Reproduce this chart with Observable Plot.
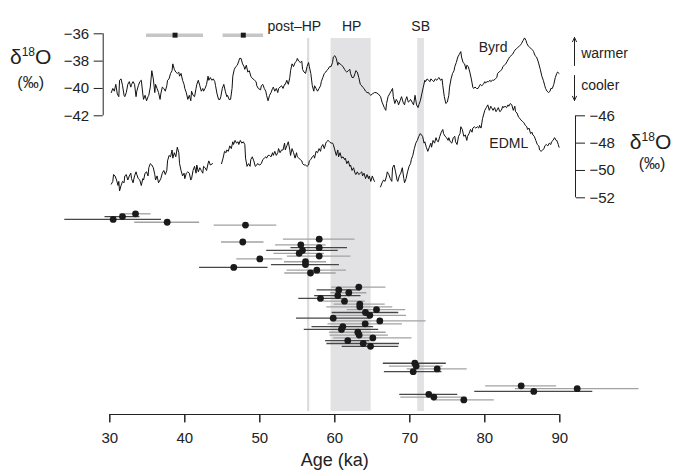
<!DOCTYPE html>
<html><head><meta charset="utf-8">
<script src="https://cdn.jsdelivr.net/npm/d3@7"></script>
<script src="https://cdn.jsdelivr.net/npm/@observablehq/plot@0.6"></script>
<style>body{margin:0;background:#fff}#chart svg{display:block}</style>
</head><body><div id="chart"></div>
<script>
// ---- Data ----
// Byrd ice core δ18O (‰): [age ka, value]
const byrd = [[30.2,-40.3],[30.4,-40.0],[30.6,-40.2],[30.8,-39.7],[31.0,-40.4],[31.2,-40.6],[31.3,-39.4],[31.5,-39.3],[31.7,-39.8],[31.9,-40.5],[32.0,-40.6],[32.2,-40.3],[32.4,-39.7],[32.6,-39.5],[32.8,-39.9],[32.9,-39.7],[33.1,-39.5],[33.3,-39.7],[33.5,-40.6],[33.6,-40.2],[33.8,-39.8],[34.0,-39.5],[34.2,-39.4],[34.4,-40.4],[34.5,-40.8],[34.7,-40.5],[34.9,-40.9],[35.1,-40.6],[35.2,-40.5],[35.4,-39.9],[35.6,-38.7],[35.8,-39.3],[36.0,-40.3],[36.1,-39.7],[36.3,-40.0],[36.5,-40.3],[36.7,-40.8],[36.8,-40.4],[37.0,-39.9],[37.2,-40.0],[37.4,-40.2],[37.6,-39.8],[37.7,-39.4],[37.9,-39.3],[38.1,-38.9],[38.3,-38.7],[38.4,-38.2],[38.6,-38.6],[38.8,-38.8],[39.0,-38.9],[39.2,-38.8],[39.3,-39.1],[39.5,-38.9],[39.7,-39.4],[39.9,-39.7],[40.0,-40.0],[40.2,-40.3],[40.4,-40.8],[40.6,-40.5],[40.8,-40.9],[40.9,-40.2],[41.1,-40.5],[41.3,-40.6],[41.5,-40.0],[41.6,-39.7],[41.8,-39.4],[42.0,-39.8],[42.2,-40.2],[42.4,-40.0],[42.5,-40.2],[42.7,-40.0],[42.9,-39.7],[43.1,-39.1],[43.2,-39.4],[43.4,-39.2],[43.6,-39.4],[43.8,-39.3],[44.0,-39.5],[44.1,-39.8],[44.3,-40.4],[44.5,-40.8],[44.7,-40.8],[44.8,-40.6],[45.0,-40.0],[45.2,-39.7],[45.4,-40.2],[45.6,-40.6],[45.7,-40.5],[45.9,-40.8],[46.1,-40.8],[46.3,-40.0],[46.4,-39.1],[46.6,-38.6],[46.8,-38.4],[47.0,-38.3],[47.2,-38.0],[47.3,-37.8],[47.5,-37.8],[47.7,-38.2],[47.9,-38.4],[48.0,-38.6],[48.2,-38.3],[48.4,-38.8],[48.6,-38.7],[48.8,-39.1],[48.9,-39.2],[49.1,-39.3],[49.3,-39.4],[49.5,-39.5],[49.6,-39.8],[49.8,-40.0],[50.1,-40.1],[50.2,-39.8],[50.4,-39.7],[50.6,-40.0],[50.8,-40.2],[50.9,-40.5],[51.1,-40.9],[51.3,-40.5],[51.5,-40.3],[51.7,-40.0],[51.8,-39.9],[52.0,-40.2],[52.2,-40.0],[52.4,-40.3],[52.5,-40.0],[52.7,-39.9],[52.9,-39.8],[53.1,-40.0],[53.3,-39.7],[53.4,-39.7],[53.6,-39.4],[53.8,-39.7],[54.0,-39.2],[54.1,-38.7],[54.3,-38.2],[54.5,-38.4],[54.7,-38.1],[54.9,-38.0],[55.0,-37.8],[55.2,-38.0],[55.4,-38.1],[55.6,-38.0],[55.7,-38.6],[55.9,-38.8],[56.1,-38.9],[56.3,-38.4],[56.5,-38.1],[56.6,-38.4],[56.8,-38.9],[57.0,-39.8],[57.2,-40.2],[57.3,-39.8],[57.5,-40.0],[57.7,-40.2],[57.9,-40.0],[58.1,-39.8],[58.2,-39.5],[58.4,-39.2],[58.6,-38.9],[58.8,-38.8],[58.9,-38.7],[59.1,-38.6],[59.3,-38.4],[59.5,-38.4],[59.7,-38.1],[59.8,-37.7],[60.0,-37.6],[60.2,-37.8],[60.4,-38.3],[60.5,-38.1],[60.7,-38.2],[60.9,-38.3],[61.1,-38.4],[61.3,-38.6],[61.4,-38.7],[61.6,-38.8],[61.8,-38.7],[62.0,-38.6],[62.1,-38.9],[62.3,-39.2],[62.5,-39.2],[62.7,-38.9],[62.8,-38.7],[63.0,-38.8],[63.2,-39.2],[63.4,-39.7],[63.6,-39.8],[63.7,-39.9],[63.9,-40.0],[64.1,-40.2],[64.3,-40.3],[64.5,-40.3],[64.6,-40.4],[64.8,-40.5],[65.0,-40.4],[65.3,-40.3],[65.5,-40.3],[65.8,-40.4],[66.1,-40.6],[66.3,-41.0],[66.6,-41.4],[66.8,-41.6],[66.9,-41.1],[67.1,-40.6],[67.3,-40.4],[67.5,-40.2],[67.7,-40.0],[67.8,-40.6],[68.0,-41.1],[68.2,-40.8],[68.4,-41.0],[68.5,-41.2],[68.7,-40.9],[68.9,-40.6],[69.1,-41.0],[69.3,-41.2],[69.4,-40.9],[69.6,-40.6],[69.8,-41.0],[70.0,-40.9],[70.1,-40.8],[70.3,-41.0],[70.5,-41.2],[70.7,-40.5],[70.9,-41.2],[71.1,-41.4],[71.2,-41.2],[71.4,-40.9],[71.6,-40.4],[71.8,-39.9],[72.0,-39.4],[72.1,-39.5],[72.3,-39.3],[72.5,-39.4],[72.7,-39.5],[72.8,-39.3],[73.0,-39.4],[73.2,-39.5],[73.4,-39.3],[73.6,-39.4],[73.7,-39.3],[73.9,-39.2],[74.1,-39.4],[74.3,-39.3],[74.4,-39.8],[74.6,-40.6],[74.8,-41.1],[75.0,-41.0],[75.2,-40.5],[75.3,-39.9],[75.5,-39.3],[75.7,-38.9],[75.9,-38.7],[76.0,-38.4],[76.2,-38.1],[76.4,-37.7],[76.6,-37.5],[76.8,-37.3],[76.9,-37.7],[77.1,-38.1],[77.3,-38.2],[77.5,-38.6],[77.6,-38.3],[77.8,-38.4],[78.0,-38.8],[78.2,-39.3],[78.4,-39.9],[78.5,-40.0],[78.7,-39.9],[78.9,-40.0],[79.1,-40.0],[79.2,-39.9],[79.4,-39.7],[79.6,-39.8],[79.8,-39.7],[80.0,-39.5],[80.1,-39.6],[80.3,-39.5],[80.5,-39.5],[80.7,-39.4],[80.8,-39.5],[81.0,-39.4],[81.2,-39.4],[81.4,-39.3],[81.6,-39.2],[81.7,-38.9],[81.9,-38.8],[82.1,-38.7],[82.3,-38.6],[82.4,-38.4],[82.6,-38.3],[82.8,-38.2],[83.0,-38.0],[83.2,-37.8],[83.3,-37.7],[83.5,-37.6],[83.7,-37.5],[83.9,-37.3],[84.0,-37.2],[84.2,-37.1],[84.4,-37.0],[84.6,-36.9],[84.8,-36.8],[84.9,-36.7],[85.1,-36.5],[85.3,-36.3],[85.5,-36.5],[85.6,-36.7],[85.8,-36.9],[86.0,-37.0],[86.2,-37.1],[86.4,-37.2],[86.5,-37.3],[86.7,-37.6],[86.9,-37.7],[87.1,-38.0],[87.2,-38.2],[87.4,-38.6],[87.6,-39.1],[87.8,-39.4],[88.0,-39.8],[88.1,-40.0],[88.3,-40.2],[88.5,-40.3],[88.7,-40.2],[88.8,-40.0],[89.0,-40.0],[89.2,-39.7],[89.4,-39.2],[89.6,-38.9],[89.7,-38.8],[89.9,-38.9]];

// EDML ice core δ18O (‰): [age ka, value]; null = gap in record
const edml = [[30.2,-51.0],[30.4,-50.8],[30.5,-50.3],[30.7,-50.4],[30.9,-50.7],[31.1,-51.1],[31.2,-50.8],[31.3,-51.5],[31.5,-51.1],[31.7,-50.8],[31.9,-50.9],[32.0,-50.4],[32.2,-50.3],[32.4,-50.7],[32.6,-50.4],[32.8,-50.2],[32.9,-50.6],[33.1,-50.9],[33.3,-50.4],[33.5,-50.1],[33.6,-50.3],[33.8,-50.6],[34.0,-50.7],[34.2,-51.1],[34.4,-50.6],[34.5,-50.7],[34.7,-50.2],[34.9,-50.1],[35.1,-50.4],[35.2,-49.8],[35.4,-49.5],[35.6,-49.6],[35.8,-49.8],[36.0,-50.3],[36.1,-50.7],[36.3,-50.4],[36.5,-50.9],[36.7,-50.7],[36.8,-50.6],[37.0,-50.2],[37.2,-50.0],[37.4,-50.3],[37.6,-50.0],[37.7,-49.3],[37.9,-48.9],[38.1,-49.0],[38.3,-48.5],[38.4,-49.1],[38.6,-48.7],[38.8,-49.0],[39.0,-48.3],[39.2,-48.7],[39.3,-49.5],[39.5,-50.0],[39.7,-50.4],[39.9,-50.2],[40.0,-50.6],[40.2,-50.2],[40.4,-50.1],[40.6,-50.2],[40.8,-50.7],[40.9,-50.6],[41.1,-50.0],[41.3,-49.7],[41.5,-50.2],[41.6,-49.6],[41.8,-50.1],[42.0,-49.8],[42.2,-50.0],[42.4,-50.2],[42.5,-49.7],[42.7,-49.8],[42.9,-50.0],[43.1,-49.5],[43.2,-49.3],[43.4,-49.6],[43.7,-49.5],[44.3,null],[44.9,-49.5],[45.1,-49.1],[45.3,-48.6],[45.5,-48.7],[45.6,-48.5],[45.8,-48.6],[46.0,-48.2],[46.2,-48.4],[46.4,-47.9],[46.5,-48.1],[46.7,-47.8],[46.9,-48.0],[47.1,-47.9],[47.2,-48.1],[47.4,-47.8],[47.6,-48.0],[47.8,-47.9],[48.0,-48.1],[48.1,-49.1],[48.3,-49.7],[48.5,-49.5],[48.7,-49.7],[48.8,-49.2],[49.0,-49.0],[49.2,-49.3],[49.4,-49.7],[49.6,-49.6],[49.7,-49.5],[50.0,-49.6],[50.2,-49.5],[50.4,-49.2],[50.6,-49.1],[50.8,-49.0],[50.9,-49.1],[51.1,-48.9],[51.3,-48.9],[51.5,-49.0],[51.7,-48.7],[51.8,-48.9],[52.0,-48.6],[52.2,-48.9],[52.4,-48.7],[52.5,-48.4],[52.7,-48.7],[52.9,-48.5],[53.1,-48.5],[53.3,-48.0],[53.4,-48.5],[53.6,-48.2],[53.8,-47.9],[54.0,-48.5],[54.1,-48.9],[54.3,-48.4],[54.5,-48.7],[54.7,-49.1],[54.9,-48.7],[55.0,-49.0],[55.2,-49.1],[55.4,-49.2],[55.6,-49.3],[55.7,-49.5],[55.9,-49.6],[56.1,-49.6],[56.3,-49.7],[56.5,-49.6],[56.6,-49.3],[56.8,-49.2],[57.0,-49.0],[57.2,-48.9],[57.3,-49.1],[57.5,-48.6],[57.7,-48.7],[57.9,-48.4],[58.1,-48.6],[58.2,-48.3],[58.4,-48.1],[58.6,-48.4],[58.8,-48.0],[58.9,-47.9],[59.1,-47.8],[59.3,-47.9],[59.5,-48.0],[59.7,-48.0],[59.8,-48.1],[60.0,-48.5],[60.2,-48.9],[60.4,-48.5],[60.5,-49.0],[60.7,-48.7],[60.9,-49.1],[61.1,-49.0],[61.3,-49.2],[61.4,-49.1],[61.6,-49.5],[61.8,-49.3],[62.0,-49.7],[62.1,-49.6],[62.3,-50.0],[62.5,-49.8],[62.7,-50.2],[62.8,-50.3],[63.0,-50.1],[63.2,-50.3],[63.4,-50.2],[63.6,-50.1],[63.7,-50.4],[63.9,-50.2],[64.1,-50.6],[64.3,-50.3],[64.5,-50.6],[64.6,-50.4],[64.8,-50.8],[65.0,-50.4],[65.2,-50.7],[65.3,-50.8],[65.7,null],[66.1,-51.2],[66.3,-50.9],[66.5,-50.7],[66.7,-50.8],[66.9,-50.4],[67.0,-50.1],[67.2,-50.3],[67.4,-50.6],[67.6,-50.8],[67.7,-49.8],[67.9,-49.6],[68.1,-50.1],[68.3,-50.7],[68.4,-50.8],[68.6,-50.4],[68.8,-50.2],[69.0,-49.8],[69.2,-50.6],[69.3,-50.9],[69.5,-50.6],[69.7,-50.1],[69.9,-49.7],[70.1,-49.5],[70.2,-49.2],[70.4,-48.9],[70.6,-48.4],[70.8,-48.0],[71.0,-47.8],[71.2,-47.5],[71.4,-47.3],[71.7,-47.5],[71.9,-48.0],[72.0,-47.9],[72.2,-48.3],[72.4,-48.6],[72.6,-48.3],[72.8,-48.0],[72.9,-48.3],[73.1,-47.8],[73.3,-48.0],[73.5,-47.6],[73.6,-47.8],[73.8,-47.9],[74.0,-47.5],[74.2,-47.2],[74.4,-47.0],[74.5,-47.3],[74.7,-47.5],[74.9,-47.6],[75.1,-47.8],[75.2,-47.6],[75.4,-47.9],[75.6,-48.0],[75.8,-47.6],[76.0,-47.5],[76.1,-47.9],[76.3,-48.1],[76.5,-47.5],[76.7,-47.3],[76.8,-46.8],[77.0,-47.0],[77.2,-47.5],[77.4,-47.4],[77.6,-47.8],[77.7,-47.5],[77.9,-47.3],[78.1,-47.0],[78.3,-47.2],[78.4,-46.9],[78.6,-46.8],[78.8,-46.9],[79.0,-46.8],[79.2,-46.9],[79.3,-46.7],[79.5,-46.9],[79.7,-46.2],[79.9,-45.8],[80.0,-45.6],[80.2,-45.4],[80.4,-45.2],[80.6,-45.6],[80.8,-45.3],[80.9,-45.4],[81.1,-45.6],[81.3,-45.4],[81.5,-45.7],[81.6,-45.6],[81.8,-45.4],[82.0,-45.7],[82.2,-45.6],[82.4,-45.3],[82.5,-45.4],[82.7,-45.3],[82.9,-45.4],[83.1,-45.2],[83.2,-45.3],[83.4,-45.1],[83.6,-45.2],[83.8,-45.6],[84.0,-45.3],[84.1,-45.7],[84.3,-45.8],[84.5,-46.1],[84.7,-46.2],[84.8,-46.3],[85.0,-46.4],[85.2,-46.5],[85.4,-46.7],[85.6,-46.8],[85.7,-47.0],[85.9,-46.9],[86.1,-47.3],[86.3,-47.2],[86.4,-47.4],[86.6,-47.5],[86.8,-47.8],[87.0,-48.1],[87.2,-48.2],[87.3,-48.5],[87.5,-48.6],[87.7,-48.5],[87.9,-48.4],[88.0,-48.2],[88.2,-48.1],[88.4,-48.2],[88.6,-48.0],[88.8,-48.1],[88.9,-47.9],[89.1,-47.8],[89.3,-47.6],[89.5,-47.8],[89.6,-47.8],[89.8,-48.1],[89.9,-48.3]];

// Luminescence ages (ka), 1σ errors, plotting row (sample order), bar style group
const lumAge = [33.43,31.69,30.45,37.65,48.09, 57.92,47.73,55.47,57.92,55.69,55.25,57.92,50.0,56.09,56.09,46.53,57.6,56.76, 63.2,60.53,61.87,60.4,58.09,61.29,63.33,63.33,65.56,64.09,64.67,59.79,66.0,64.05,61.07,60.89,63.07,63.25,65.07,61.73,63.79,64.76, 70.67,70.85,73.65,70.45, 84.85,92.32,86.53,72.53,73.2,77.2];
const lumErr = [2.07,2.33,6.45,4.33,4.17, 4.77,2.83,3.37,3.77,4.77,3.37,4.23,3.07,2.8,4.53,4.56,3.96,3.43, 3.62,2.89,2.4,3.09,2.89,2.78,3.4,4.4,3.89,4.44,4.89,4.89,6.17,4.96,4.11,4.96,3.77,3.89,5.22,2.96,4.84,3.77, 4.2,3.57,4.0,3.84, 4.73,8.24,7.87,3.87,4.4,4.07];
const lumRow = [0,1,2,3,4, 9,10,11,12,13,14,15,16,17,18,19,20,21, 26,27,28,29,30,31,32,33,34,35,36,37,38,39,40,41,42,43,44,45,46,47, 53,54,55,56, 61,62,63,64,65,66];
const lumGroup = ["g","d","d","g","g", "g","g","g","d","d","g","g","g","g","d","d","g","g", "g","d","g","d","d","g","g","g","g","d","g","d","g","g","d","d","g","g","g","d","d","d", "d","g","g","d", "g","g","d","d","g","g"];

// Tie-point ages with uncertainty (top of chart)
const tieAge = [38.7, 47.8];
const tieErr = [3.8, 2.7];

// Periods
const bands = [{name: "HP", x1: 59.5, x2: 64.85}, {name: "SB", x1: 71.05, x2: 71.95}];
const postHP = 56.45;
const periodLabels = [{t: "post\u2013HP", x: 54.6}, {t: "HP", x: 62.25}, {t: "SB", x: 71.45}];

// Axis ticks
const ageTicks = [30, 40, 50, 60, 70, 80, 90];
const byrdTicks = [-36, -38, -40, -42];
const edmlTicks = [-46, -48, -50, -52];
const EDML_OFFSET = 4; // EDML drawn 4‰ below on the shared vertical scale

// ---- Layout ----
const W = 673, H = 476, ML = 109.3, MR = 113.7, MT = 38, MB = 62;
const yDomain = [-42, -36], yRange = [115.3, 33.3];
const yLin = d3.scaleLinear(yDomain, yRange);
const rowY = r => yLin.invert(213.3 + 2.82 * r);
const yBase = yLin.invert(H - MB);
const yTickEnd = yLin.invert(H - MB + 8);
const fmt = d3.format("d");
const font = "'Liberation Sans', Arial, Helvetica, sans-serif";
const ink = "#222";

const byrdData = byrd.map(([a, v]) => ({age: a, y: v}));
const edmlData = edml.map(([a, v]) => ({age: a, y: v == null ? NaN : v + EDML_OFFSET}));
const lum = lumAge.map((a, i) => ({age: a, lo: a - lumErr[i], hi: a + lumErr[i], y: rowY(lumRow[i]), g: lumGroup[i]}));
const ties = tieAge.map((a, i) => ({age: a, lo: a - tieErr[i], hi: a + tieErr[i], y: -36.1}));
const tickRows = ageTicks.map(t => ({x: t, y1: yBase, y2: yTickEnd}));

const plot = Plot.plot({
  width: W, height: H,
  marginLeft: ML, marginRight: MR, marginTop: MT, marginBottom: MB,
  style: {fontFamily: font, fontSize: "14px", color: ink, background: "#fff", overflow: "visible"},
  x: {domain: [30, 90], axis: null},
  y: {domain: yDomain, range: yRange, axis: null},
  color: {domain: ["d", "g"], range: ["#474747", "#a2a2a2"]},
  marks: [
    Plot.rectX(bands, {x1: "x1", x2: "x2", fill: "#e2e2e5", insetBottom: 3}),
    Plot.ruleX([postHP], {stroke: "#dcdcdc", strokeWidth: 2.2, insetBottom: 3}),
    Plot.text(periodLabels, {x: "x", text: "t", frameAnchor: "top", dy: -17, fontSize: 14, fill: ink}),
    // x axis (baseline, ticks, labels)
    Plot.ruleY([yBase], {x1: 30, x2: 90, stroke: ink, strokeWidth: 1}),
    Plot.link(tickRows, {x1: "x", x2: "x", y1: "y1", y2: "y2", stroke: ink, strokeWidth: 1.1}),
    Plot.axisX({ticks: ageTicks, tickFormat: fmt, tickSize: 8, tickPadding: 10, fontSize: 15, label: null}),
    Plot.text([{t: "Age (ka)", x: 60}], {x: "x", text: "t", frameAnchor: "bottom", dy: 51, fontSize: 18, fill: ink}),
    // tie points
    Plot.ruleY(ties, {x1: "lo", x2: "hi", y: "y", stroke: "#c6c6c6", strokeWidth: 3.5}),
    Plot.dot(ties, {x: "age", y: "y", symbol: "square", r: 2.8, fill: "#1a1a1a"}),
    // ice cores
    Plot.line(byrdData, {x: "age", y: "y", stroke: "#111", strokeWidth: 1}),
    Plot.line(edmlData, {x: "age", y: "y", stroke: "#111", strokeWidth: 1}),
    Plot.text([{t: "Byrd", x: 81.1, y: -36.98}], {x: "x", y: "y", text: "t", fontSize: 14, fill: ink}),
    Plot.text([{t: "EDML", x: 83.2, y: -48.0 + EDML_OFFSET}], {x: "x", y: "y", text: "t", fontSize: 14, fill: ink}),
    // warmer / cooler
    Plot.arrow([{x: 91.96, y1: -38.32, y2: -36.27}, {x: 91.96, y1: -39.05, y2: -40.88}],
      {x1: "x", x2: "x", y1: "y1", y2: "y2", stroke: ink, strokeWidth: 1, headLength: 7, headAngle: 50}),
    Plot.text([{t: "warmer", y: -37.44}, {t: "cooler", y: -39.78}], {x: () => 92.85, y: "y", text: "t", textAnchor: "start", fontSize: 14, fill: ink}),
    // luminescence ages
    Plot.ruleY(lum, {x1: "lo", x2: "hi", y: "y", stroke: "g", strokeWidth: 1.3}),
    Plot.dot(lum, {x: "age", y: "y", r: 3.4, fill: "#1a1a1a"}),
    // y axes
    Plot.ruleX([30], {y1: byrdTicks[0], y2: byrdTicks[byrdTicks.length - 1], dx: -6.6, stroke: ink}),
    Plot.axisY({anchor: "left", ticks: byrdTicks, tickFormat: fmt, tickSize: 9, tickPadding: 5, dx: -6.6, fontSize: 15, label: null}),
    Plot.ruleX([90], {y1: edmlTicks[0] + EDML_OFFSET, y2: edmlTicks[edmlTicks.length - 1] + EDML_OFFSET, dx: 15.7, stroke: ink}),
    Plot.axisY({anchor: "right", ticks: edmlTicks.map(v => v + EDML_OFFSET), tickFormat: d => fmt(d - EDML_OFFSET), tickSize: 9, tickPadding: 5, dx: 15.7, fontSize: 15, label: null}),
    // unit labels
    Plot.text([{t: "δ18O", x: 19.45, y: -37.73}, {t: "δ18O", x: 102.1, y: -43.95}], {x: "x", y: "y", text: "t", fontSize: 21, fill: ink, className: "d18o"}),
    Plot.text([{t: "(‰)", x: 19.45, y: -39.56}, {t: "(‰)", x: 102.3, y: -45.49}], {x: "x", y: "y", text: "t", fontSize: 16, fill: ink})
  ]
});

// superscript 18 in δ18O labels
d3.select(plot).selectAll(".d18o text").each(function () {
  const s = d3.select(this);
  s.text(null);
  s.append("tspan").text("δ");
  s.append("tspan").attr("font-size", "12px").attr("dy", "-8").text("18");
  s.append("tspan").attr("dy", "8").text("O");
});

document.getElementById("chart").append(plot);
</script>
</body></html>
